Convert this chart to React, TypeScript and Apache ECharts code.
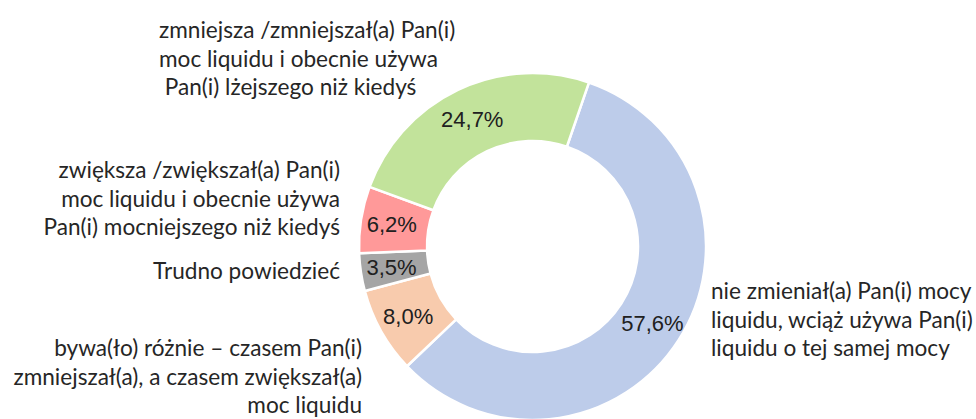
import React, { useEffect, useRef } from "react";
import * as echarts from "echarts";

// Categories in drawing order (clockwise, starting at the blue slice)
const categories = [
  "nie zmieniał(a) Pan(i) mocy\nliquidu, wciąż używa Pan(i)\nliquidu o tej samej mocy",
  "bywa(ło) różnie – czasem Pan(i)\nzmniejszał(a), a czasem zwiększał(a)\nmoc liquidu",
  "Trudno powiedzieć",
  "zwiększa /zwiększał(a) Pan(i)\nmoc liquidu i obecnie używa\nPan(i) mocniejszego niż kiedyś",
  "zmniejsza /zmniejszał(a) Pan(i)\nmoc liquidu i obecnie używa\n Pan(i) lżejszego niż kiedyś",
];
const values = [57.6, 8.0, 3.5, 6.2, 24.7];
const colors = ["#BDCCEA", "#F8CBAD", "#A5A5A5", "#FF9999", "#C2E39B"];

// Category label anchors (label placement only)
const nameAnchors: { x: number; y: number; align: "left" | "right" }[] = [
  { x: 711, y: 319, align: "left" },
  { x: 362, y: 376, align: "right" },
  { x: 340, y: 270, align: "right" },
  { x: 340, y: 198, align: "right" },
  { x: 159, y: 58, align: "left" },
];
// Percentage label nudges (label placement only)
const valueNudges = [
  { dx: 0, dy: 0 },
  { dx: 0, dy: 0 },
  { dx: 0, dy: 0 },
  { dx: 0, dy: 0 },
  { dx: 1, dy: 2 },
];

export default function App() {
  const ref = useRef<HTMLDivElement>(null);
  useEffect(() => {
    if (!ref.current) return;
    const chart = echarts.init(ref.current, undefined, { renderer: "svg" });
    const data = values.map((v, i) => ({
      name: categories[i],
      value: v,
      itemStyle: { color: colors[i] },
    }));
    const center = [532.5, 246.5];
    const radius = [105.5, 173.5];
    chart.setOption({
      animation: false,
      backgroundColor: "#ffffff",
      series: [
        {
          type: "pie",
          center,
          radius,
          startAngle: 71,
          clockwise: true,
          avoidLabelOverlap: false,
          silent: true,
          data,
          itemStyle: { borderColor: "#ffffff", borderWidth: 2.5 },
          label: {
            show: true,
            position: "inside",
            formatter: (p: any) => p.value.toFixed(1).replace(".", ",") + "%",
            fontFamily: "Liberation Sans",
            fontSize: 22,
            color: "#202020",
          },
          labelLine: { show: false },
          labelLayout: (p: any) => valueNudges[p.dataIndex],
        },
        {
          type: "pie",
          center,
          radius,
          startAngle: 71,
          clockwise: true,
          avoidLabelOverlap: false,
          silent: true,
          z: 1,
          data: values.map((v, i) => ({ name: categories[i], value: v })),
          itemStyle: { color: "rgba(0,0,0,0)", borderWidth: 0 },
          label: {
            show: true,
            position: "outside",
            formatter: (p: any) => p.name,
            fontFamily: "Lato",
            fontSize: 22.6,
            lineHeight: 28.5,
            color: "#262626",
          },
          labelLine: { show: false },
          labelLayout: (p: any) => {
            const a = nameAnchors[p.dataIndex];
            return { x: a.x, y: a.y, align: a.align, verticalAlign: "middle" };
          },
        },
      ],
    });
    return () => chart.dispose();
  }, []);
  return (
    <div
      ref={ref}
      style={{ position: "absolute", left: 0, top: 0, width: 976, height: 419 }}
    />
  );
}
